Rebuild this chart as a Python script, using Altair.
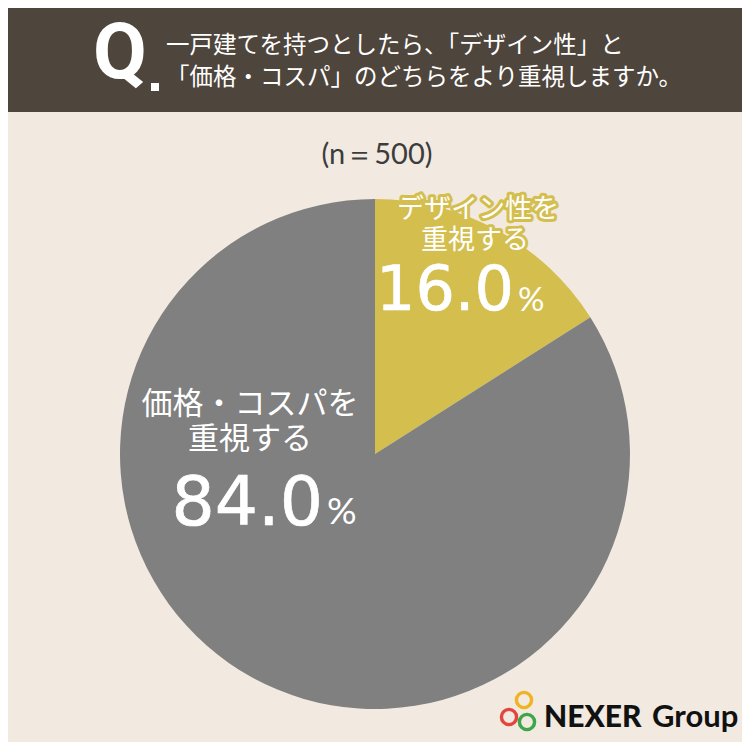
import altair as alt
import pandas as pd

# ---- data ----
categories = ["デザイン性を重視する", "価格・コスパを重視する"]
values = [16.0, 84.0]
label_line1 = ["デザイン性を", "価格・コスパを"]
label_line2 = ["重視する", "重視する"]
slice_colors = ["#D3BE4E", "#808080"]
title_lines = ["一戸建てを持つとしたら、「デザイン性」と", "「価格・コスパ」のどちらをより重視しますか。"]
sample_text = "(n＝500)"
brand_bold = "NEXER"
brand_light = "Group"

BG = "#F2EAE1"
HEADER = "#4E453C"
JP = "Noto Sans CJK JP"
NUM = "DejaVu Sans"
OFF = 8  # page margin offset

pie_df = pd.DataFrame({"cat": categories, "value": values, "ord": [0, 1]})
one = alt.Data(values=[{}])


def P(v):
    return alt.value(v - OFF)


def text_layer(txt, x, y, size, color="white", font=JP, weight="normal", align="center",
               baseline="middle", stroke=None, strokeWidth=0):
    kw = dict(text=txt, fontSize=size, font=font, fontWeight=weight, align=align,
              baseline=baseline, color=color)
    if stroke:
        kw.update(stroke=stroke, strokeWidth=strokeWidth, strokeJoin="round")
    return alt.Chart(one).mark_text(**kw).encode(x=P(x), y=P(y))


header = alt.Chart(one).mark_rect(color=HEADER).encode(
    x=P(OFF), x2=P(750), y=P(OFF), y2=P(112))

q_letter = text_layer("Q", 93, 78, 78, font="Roboto", weight="bold", align="left", baseline="alphabetic")
q_dot = alt.Chart(one).mark_rect(color="white").encode(x=P(151), x2=P(159), y=P(83), y2=P(91))
t1 = text_layer(title_lines[0], 166, 46, 23.5, align="left")
t2 = text_layer(title_lines[1], 166, 78, 23.5, align="left")

n_text = text_layer(sample_text, 377, 155, 29, color="#3C3C3C", font="Lato")

pie = alt.Chart(pie_df).mark_arc(radius=255, strokeWidth=0).encode(
    theta=alt.Theta("value:Q", stack=True),
    order=alt.Order("ord:Q"),
    color=alt.Color("cat:N", scale=alt.Scale(domain=categories, range=slice_colors), legend=None),
    x=P(375), y=P(454),
)

yel = slice_colors[0]
lab_layers = []
# yellow slice label: halo layer underneath, then white text (thin white stroke thickens the digits)
for halo in [True, False]:
    c = yel if halo else "white"
    sw_txt = 6 if halo else 0
    sw_num = 7 if halo else 0.6
    s_txt = yel if halo else None
    s_num = yel if halo else "white"
    lab_layers += [
        text_layer(label_line1[0], 478, 210, 27, stroke=s_txt, strokeWidth=sw_txt, color=c),
        text_layer(label_line2[0], 475, 241, 27, stroke=s_txt, strokeWidth=sw_txt, color=c),
        text_layer(f"{values[0]:.1f}", 514, 310, 62, font=NUM, align="right", baseline="alphabetic",
                   stroke=s_num, strokeWidth=sw_num, color=c),
        text_layer("%", 518, 311, 33, font="Lato", align="left", baseline="alphabetic",
                   stroke=s_txt if halo else None, strokeWidth=sw_num if halo else 0, color=c),
    ]
lab_layers += [
    text_layer(label_line1[1], 250, 405, 31),
    text_layer(label_line2[1], 250, 440, 31),
    text_layer(f"{values[1]:.1f}", 323, 525, 68, font=NUM, align="right", baseline="alphabetic",
               stroke="white", strokeWidth=0.7),
    text_layer("%", 327, 524, 37, font="Lato", align="left", baseline="alphabetic"),
]

rings = []
for (cx, cy, col) in [(524, 700, "#F0B323"), (509, 717, "#E2463C"), (527, 722, "#3DA64A")]:
    rings.append(alt.Chart(one).mark_point(shape="circle", filled=False, strokeWidth=3.4,
                                           size=230, color=col, opacity=1).encode(x=P(cx), y=P(cy)))
b1 = text_layer(brand_bold, 544, 727, 30, color="#111111", font="Lato", weight=900, align="left",
                baseline="alphabetic")
b2 = text_layer(brand_light, 652, 727, 31, color="#111111", font="Lato", weight="bold", align="left",
                baseline="alphabetic")

chart = alt.layer(
    header, q_letter, q_dot, t1, t2, n_text, pie, *lab_layers, *rings, b1, b2
).properties(
    width=734, height=734, background=BG, padding=0, autosize=alt.AutoSizeParams(type="none")
).configure_view(stroke=None)

chart.save("out.html", embed_options={"renderer": "svg", "actions": False})
